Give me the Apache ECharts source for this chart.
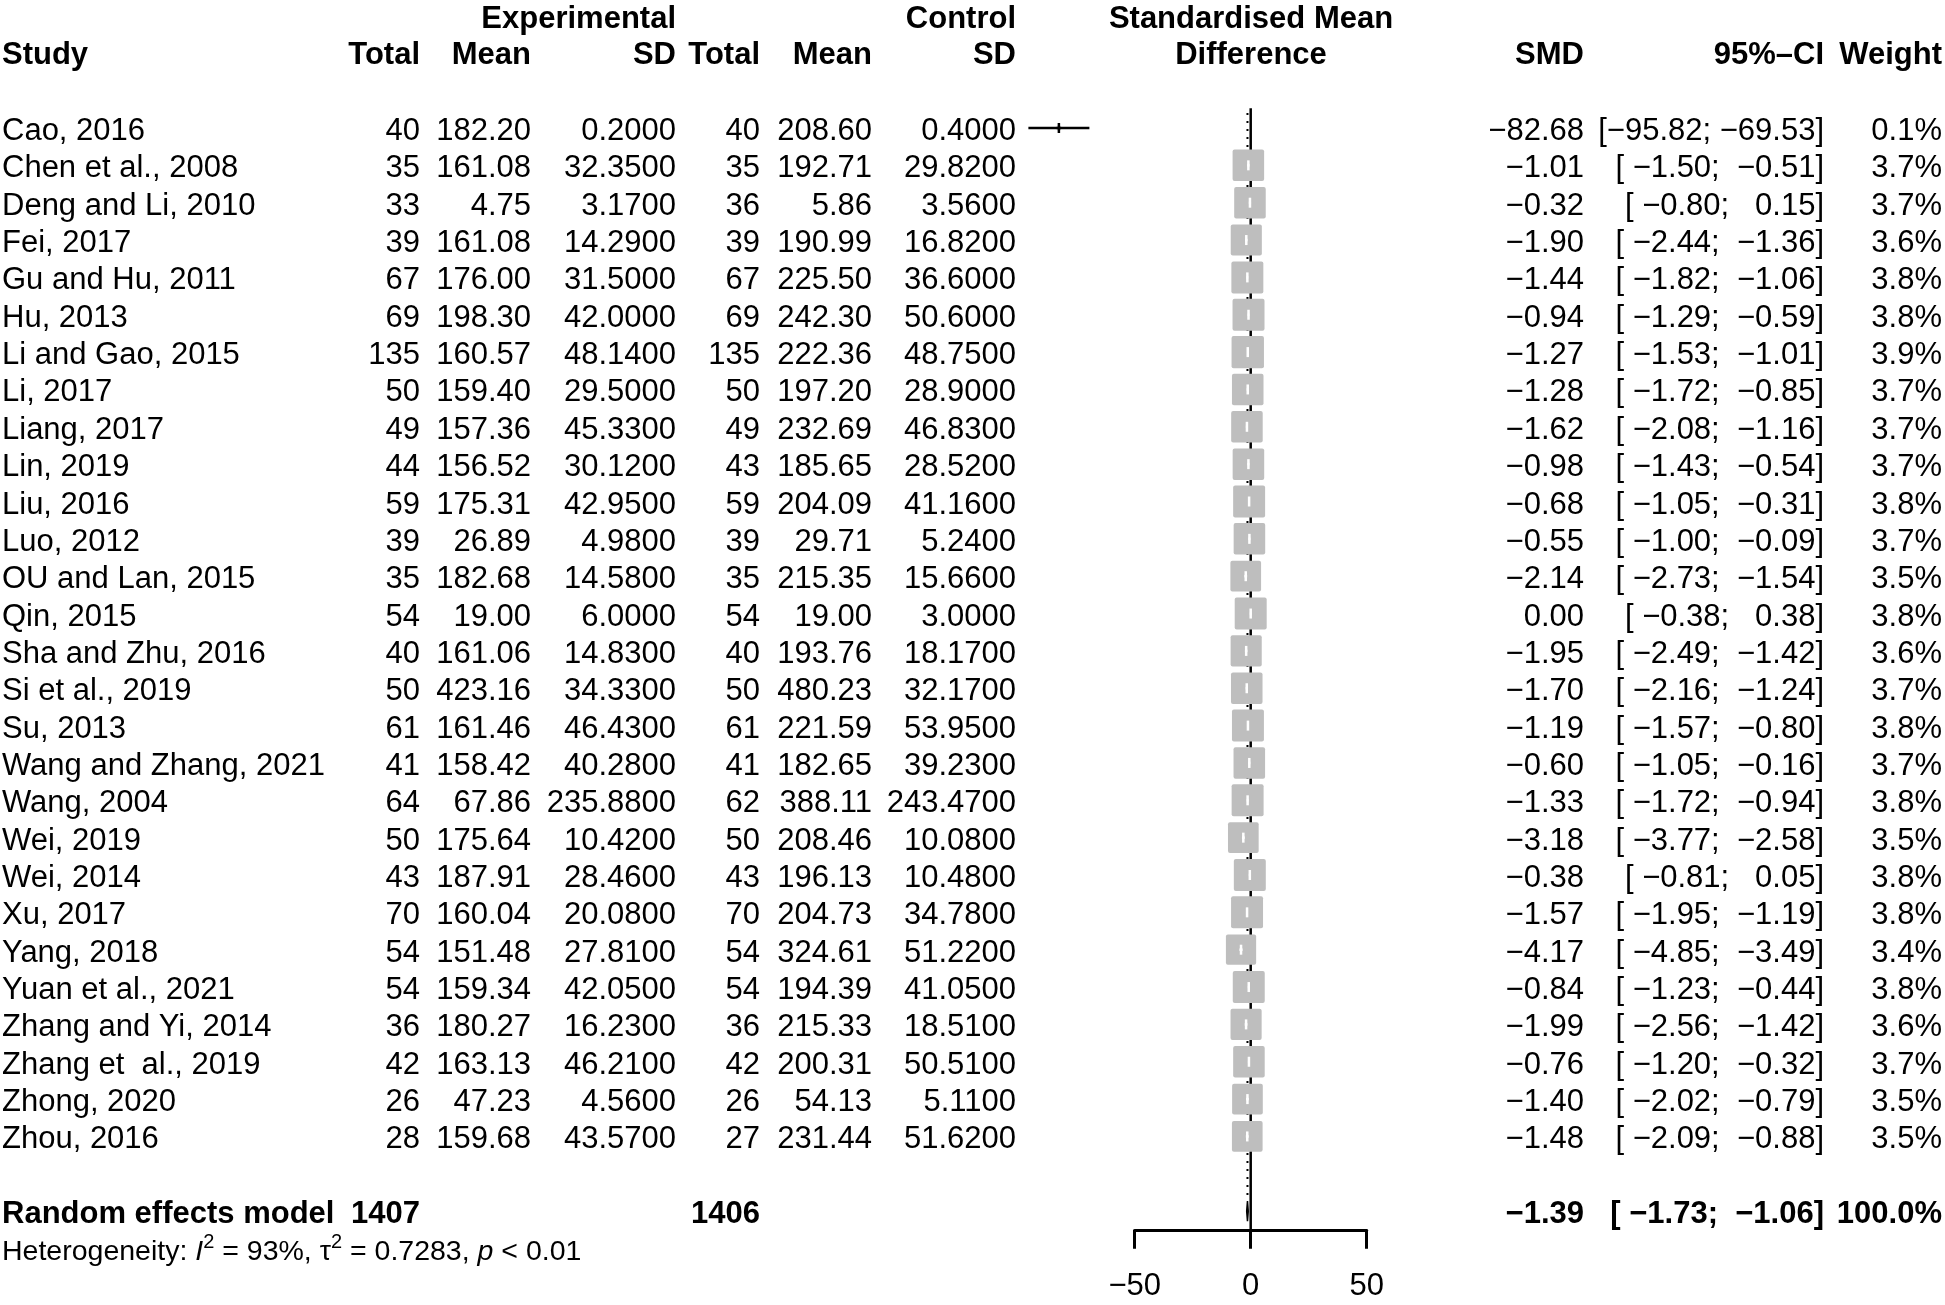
<!DOCTYPE html>
<html>
<head>
<meta charset="utf-8">
<title>Forest plot</title>
<script src="https://cdn.jsdelivr.net/npm/echarts@6/dist/echarts.min.js"></script>
<style>
  html, body { margin: 0; padding: 0; background: #fff; }
  #main { width: 1945px; height: 1305px; }
</style>
</head>
<body>
<div id="main"></div>
<script>
// ---- data ----
var studies = ['Cao, 2016', 'Chen et al., 2008', 'Deng and Li, 2010', 'Fei, 2017', 'Gu and Hu, 2011',
  'Hu, 2013', 'Li and Gao, 2015', 'Li, 2017', 'Liang, 2017', 'Lin, 2019', 'Liu, 2016', 'Luo, 2012',
  'OU and Lan, 2015', 'Qin, 2015', 'Sha and Zhu, 2016', 'Si et al., 2019', 'Su, 2013',
  'Wang and Zhang, 2021', 'Wang, 2004', 'Wei, 2019', 'Wei, 2014', 'Xu, 2017', 'Yang, 2018',
  'Yuan et al., 2021', 'Zhang and Yi, 2014', 'Zhang et  al., 2019', 'Zhong, 2020', 'Zhou, 2016'];
var expTotal = [40, 35, 33, 39, 67, 69, 135, 50, 49, 44, 59, 39, 35, 54, 40, 50, 61, 41, 64, 50, 43, 70, 54, 54, 36, 42, 26, 28];
var expMean = [182.20, 161.08, 4.75, 161.08, 176.00, 198.30, 160.57, 159.40, 157.36, 156.52, 175.31, 26.89, 182.68, 19.00,
  161.06, 423.16, 161.46, 158.42, 67.86, 175.64, 187.91, 160.04, 151.48, 159.34, 180.27, 163.13, 47.23, 159.68];
var expSD = [0.2, 32.35, 3.17, 14.29, 31.5, 42.0, 48.14, 29.5, 45.33, 30.12, 42.95, 4.98, 14.58, 6.0,
  14.83, 34.33, 46.43, 40.28, 235.88, 10.42, 28.46, 20.08, 27.81, 42.05, 16.23, 46.21, 4.56, 43.57];
var ctlTotal = [40, 35, 36, 39, 67, 69, 135, 50, 49, 43, 59, 39, 35, 54, 40, 50, 61, 41, 62, 50, 43, 70, 54, 54, 36, 42, 26, 27];
var ctlMean = [208.60, 192.71, 5.86, 190.99, 225.50, 242.30, 222.36, 197.20, 232.69, 185.65, 204.09, 29.71, 215.35, 19.00,
  193.76, 480.23, 221.59, 182.65, 388.11, 208.46, 196.13, 204.73, 324.61, 194.39, 215.33, 200.31, 54.13, 231.44];
var ctlSD = [0.4, 29.82, 3.56, 16.82, 36.6, 50.6, 48.75, 28.9, 46.83, 28.52, 41.16, 5.24, 15.66, 3.0,
  18.17, 32.17, 53.95, 39.23, 243.47, 10.08, 10.48, 34.78, 51.22, 41.05, 18.51, 50.51, 5.11, 51.62];
var smd = [-82.68, -1.01, -0.32, -1.90, -1.44, -0.94, -1.27, -1.28, -1.62, -0.98, -0.68, -0.55, -2.14, 0.00,
  -1.95, -1.70, -1.19, -0.60, -1.33, -3.18, -0.38, -1.57, -4.17, -0.84, -1.99, -0.76, -1.40, -1.48];
var ciLower = [-95.82, -1.50, -0.80, -2.44, -1.82, -1.29, -1.53, -1.72, -2.08, -1.43, -1.05, -1.00, -2.73, -0.38,
  -2.49, -2.16, -1.57, -1.05, -1.72, -3.77, -0.81, -1.95, -4.85, -1.23, -2.56, -1.20, -2.02, -2.09];
var ciUpper = [-69.53, -0.51, 0.15, -1.36, -1.06, -0.59, -1.01, -0.85, -1.16, -0.54, -0.31, -0.09, -1.54, 0.38,
  -1.42, -1.24, -0.80, -0.16, -0.94, -2.58, 0.05, -1.19, -3.49, -0.44, -1.42, -0.32, -0.79, -0.88];
var weight = [0.1, 3.7, 3.7, 3.6, 3.8, 3.8, 3.9, 3.7, 3.7, 3.7, 3.8, 3.7, 3.5, 3.8,
  3.6, 3.7, 3.8, 3.7, 3.8, 3.5, 3.8, 3.8, 3.4, 3.8, 3.6, 3.7, 3.5, 3.5];

var pooledLabel = 'Random effects model';
var pooledTotals = [1407, 1406];
var pooledSMD = -1.39;
var pooledLower = -1.73;
var pooledUpper = -1.06;
var pooledWeight = 100.0;
var hetI2 = '93%';
var hetTau2 = '0.7283';
var hetP = '< 0.01';

var axisTicks = [-50, 0, 50];
var nullValue = 0;

// ---- layout ----
var W = 1945, H = 1305;
var FONT = '"Liberation Sans", Arial, Helvetica, sans-serif';
var FS = 31;
var ROW0 = 128, ROW_PX = 37.35;          // pixel centre of first study row, row pitch
var Y_MIN = -ROW0 / ROW_PX, Y_MAX = (H - ROW0) / ROW_PX;
var ZERO_PX = 1250.7, PX_PER_UNIT = 2.32; // forest scale
var TEXT_DY = 3.5;
var BOX_K = 16.4;
var BOX_COLOR = '#bebebe';
var col = { study: 2, eTot: 420, eMean: 531, eSD: 676, cTot: 760, cMean: 872, cSD: 1016,
  mid: 1251, smd: 1584, ci: 1824, w: 1942 };
var headRow1 = -3.01, headRow2 = -2.03;
var sumRow = studies.length + 1;
var hetRow = sumRow + 1;

function neg(s) { return s.replace('-', '\u2212'); }
function f(v, d) { return neg(v.toFixed(d)); }
function pad(s, n) { while (s.length < n) s = ' ' + s; return s; }
function fmtCI(lo, hi) { return '[' + pad(f(lo, 2), 6) + '; ' + pad(f(hi, 2), 6) + ']'; }

// ---- table cells ----
var cells = [];
function cell(x, y, text, align, bold) { cells.push({ x: x, y: y, text: text, align: align, bold: bold }); }

cell(col.eSD, headRow1, 'Experimental', 'right', true);
cell(col.cSD, headRow1, 'Control', 'right', true);
cell(col.mid, headRow1, 'Standardised Mean', 'center', true);
cell(col.study, headRow2, 'Study', 'left', true);
cell(col.eTot, headRow2, 'Total', 'right', true);
cell(col.eMean, headRow2, 'Mean', 'right', true);
cell(col.eSD, headRow2, 'SD', 'right', true);
cell(col.cTot, headRow2, 'Total', 'right', true);
cell(col.cMean, headRow2, 'Mean', 'right', true);
cell(col.cSD, headRow2, 'SD', 'right', true);
cell(col.mid, headRow2, 'Difference', 'center', true);
cell(col.smd, headRow2, 'SMD', 'right', true);
cell(col.ci, headRow2, '95%\u2013CI', 'right', true);
cell(col.w, headRow2, 'Weight', 'right', true);

studies.forEach(function (s, i) {
  cell(col.study, i, s, 'left', false);
  cell(col.eTot, i, String(expTotal[i]), 'right', false);
  cell(col.eMean, i, f(expMean[i], 2), 'right', false);
  cell(col.eSD, i, f(expSD[i], 4), 'right', false);
  cell(col.cTot, i, String(ctlTotal[i]), 'right', false);
  cell(col.cMean, i, f(ctlMean[i], 2), 'right', false);
  cell(col.cSD, i, f(ctlSD[i], 4), 'right', false);
  cell(col.smd, i, f(smd[i], 2), 'right', false);
  cell(col.ci, i, fmtCI(ciLower[i], ciUpper[i]), 'right', false);
  cell(col.w, i, weight[i].toFixed(1) + '%', 'right', false);
});

cell(col.study, sumRow, pooledLabel, 'left', true);
cell(col.eTot, sumRow, String(pooledTotals[0]), 'right', true);
cell(col.cTot, sumRow, String(pooledTotals[1]), 'right', true);
cell(col.smd, sumRow, f(pooledSMD, 2), 'right', true);
cell(col.ci, sumRow, fmtCI(pooledLower, pooledUpper), 'right', true);
cell(col.w, sumRow, pooledWeight.toFixed(1) + '%', 'right', true);

var hetText = '{n|Heterogeneity: }{i|I}{s|2}{n| = ' + hetI2 + ', \u03c4}{s|2}{n| = ' + hetTau2 + ', }{i|p}{n| ' + hetP + '}';

var forestData = studies.map(function (s, i) {
  return [smd[i], i, ciLower[i], ciUpper[i], weight[i]];
});

var myChart = echarts.init(document.getElementById('main'), null, { renderer: 'canvas' });

var option = {
  backgroundColor: '#fff',
  animation: false,
  grid: [
    { left: 0, top: 0, width: W, height: H },
    { left: ZERO_PX - 100 * PX_PER_UNIT, top: 0, width: 200 * PX_PER_UNIT, height: H },
    { left: ZERO_PX - 50 * PX_PER_UNIT, top: ROW0 + (sumRow + 0.5) * ROW_PX - 1, width: 100 * PX_PER_UNIT, height: 1 }
  ],
  xAxis: [
    { gridIndex: 0, type: 'value', min: 0, max: W, show: false },
    { gridIndex: 1, type: 'value', min: -100, max: 100, show: false },
    {
      gridIndex: 2, type: 'value', min: axisTicks[0], max: axisTicks[axisTicks.length - 1],
      interval: axisTicks[1] - axisTicks[0], position: 'bottom',
      axisLine: { show: true, lineStyle: { color: '#000', width: 3 } },
      axisTick: { show: true, inside: false, length: 19, lineStyle: { color: '#000', width: 3 } },
      axisLabel: { color: '#000', fontSize: FS, fontFamily: FONT, margin: 41,
        formatter: function (v) { return neg(String(v)); } },
      splitLine: { show: false }
    }
  ],
  yAxis: [
    { gridIndex: 0, type: 'value', inverse: true, min: Y_MIN, max: Y_MAX, show: false },
    { gridIndex: 1, type: 'value', inverse: true, min: Y_MIN, max: Y_MAX, show: false },
    { gridIndex: 2, type: 'value', show: false }
  ],
  series: [
    {
      // null-effect line
      type: 'line', xAxisIndex: 1, yAxisIndex: 1, silent: true, symbol: 'none', z: 1,
      data: [[nullValue, -0.53], [nullValue, sumRow + 0.5]],
      lineStyle: { color: '#000', width: 2.5 }
    },
    {
      // pooled estimate line
      type: 'line', xAxisIndex: 1, yAxisIndex: 1, silent: true, symbol: 'none', z: 1,
      data: [[pooledSMD, -0.4], [pooledSMD, sumRow - 0.27]],
      lineStyle: { color: '#000', width: 2, type: [2, 6] }
    },
    {
      type: 'custom', xAxisIndex: 1, yAxisIndex: 1, silent: true, z: 2,
      data: forestData,
      renderItem: function (params, api) {
        var row = api.value(1);
        var pe = api.coord([api.value(0), row]);
        var lo = api.coord([api.value(2), row]);
        var hi = api.coord([api.value(3), row]);
        var s = BOX_K * Math.sqrt(api.value(4));
        var c = (hi[0] - lo[0]) < s ? '#fff' : '#000';
        return {
          type: 'group',
          children: [
            { type: 'rect', shape: { x: pe[0] - s / 2, y: pe[1] - s / 2, width: s, height: s, r: 2 }, style: { fill: BOX_COLOR } },
            { type: 'line', shape: { x1: lo[0], y1: pe[1], x2: hi[0], y2: pe[1] }, style: { stroke: c, lineWidth: 2.5 } },
            { type: 'line', shape: { x1: pe[0], y1: pe[1] - 5, x2: pe[0], y2: pe[1] + 5 }, style: { stroke: c, lineWidth: 2.5 } }
          ]
        };
      }
    },
    {
      type: 'custom', xAxisIndex: 1, yAxisIndex: 1, silent: true, z: 3,
      data: [[pooledSMD, sumRow, pooledLower, pooledUpper]],
      renderItem: function (params, api) {
        var row = api.value(1);
        var pe = api.coord([api.value(0), row]);
        var lo = api.coord([api.value(2), row]);
        var hi = api.coord([api.value(3), row]);
        return {
          type: 'polygon',
          shape: { points: [[lo[0], pe[1]], [pe[0], pe[1] - 10], [hi[0], pe[1]], [pe[0], pe[1] + 10]] },
          style: { fill: BOX_COLOR, stroke: '#000', lineWidth: 1.5 }
        };
      }
    },
    {
      type: 'custom', xAxisIndex: 0, yAxisIndex: 0, silent: true, z: 5,
      data: cells.map(function (c) { return [c.x, c.y]; }),
      renderItem: function (params, api) {
        var c = cells[params.dataIndex];
        var p = api.coord([api.value(0), api.value(1)]);
        return {
          type: 'text', x: p[0], y: p[1] + TEXT_DY,
          style: {
            text: c.text, fill: '#000',
            font: (c.bold ? 'bold ' : '') + FS + 'px ' + FONT,
            align: c.align, textAlign: c.align,
            verticalAlign: 'middle', textVerticalAlign: 'middle'
          }
        };
      }
    },
    {
      type: 'custom', xAxisIndex: 0, yAxisIndex: 0, silent: true, z: 5,
      data: [[col.study, hetRow]],
      renderItem: function (params, api) {
        var p = api.coord([api.value(0), api.value(1)]);
        return {
          type: 'text', x: p[0], y: p[1] + TEXT_DY,
          style: {
            text: hetText, fill: '#000',
            align: 'left', textAlign: 'left', verticalAlign: 'middle', textVerticalAlign: 'middle',
            rich: {
              n: { fontSize: 28.5, fontFamily: FONT, color: '#000', lineHeight: 40 },
              i: { fontSize: 28.5, fontFamily: FONT, fontStyle: 'italic', color: '#000', lineHeight: 40 },
              s: { fontSize: 20, fontFamily: FONT, color: '#000', lineHeight: 20, verticalAlign: 'top' }
            }
          }
        };
      }
    }
  ]
};

myChart.setOption(option);
</script>
</body>
</html>
